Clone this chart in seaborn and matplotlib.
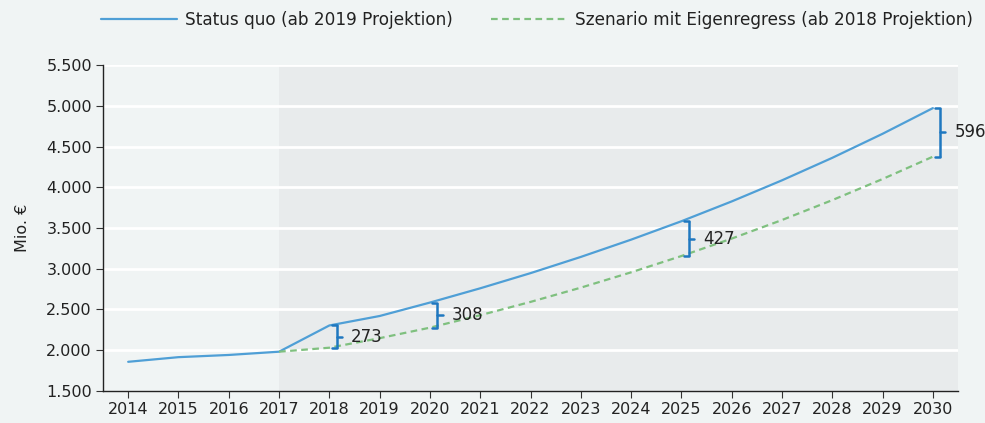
import matplotlib
matplotlib.use("Agg")
import matplotlib.pyplot as plt
import seaborn as sns
import pandas as pd
from matplotlib.ticker import FuncFormatter

years_sq = list(range(2014, 2031))
status_quo = [1858, 1915, 1942, 1982, 2304, 2420, 2585, 2760, 2946, 3145,
              3357, 3583, 3826, 4085, 4361, 4656, 4971]
years_sc = list(range(2017, 2031))
szenario = [1982, 2031, 2148, 2277, 2430, 2593, 2768, 2956, 3156, 3370,
            3598, 3842, 4101, 4375]
gap_years = [2018, 2020, 2025, 2030]
gap_labels = ["273", "308", "427", "596"]
label_sq = "Status quo (ab 2019 Projektion)"
label_sc = "Szenario mit Eigenregress (ab 2018 Projektion)"
y_ticks = [1500, 2000, 2500, 3000, 3500, 4000, 4500, 5000, 5500]

bg = "#f0f4f4"
shade = "#e8ebec"
c_sq = "#4f9fd6"
c_sc = "#7fc07f"
c_br = "#1f78c0"

sns.set_theme(style="white")
plt.rcParams["font.family"] = ["DejaVu Sans"]

fig = plt.figure(figsize=(9.85, 4.23), dpi=100, facecolor=bg)
ax = fig.add_axes([0.1046, 0.0757, 0.868, 0.7706])
ax.set_facecolor(bg)

df_sq = pd.DataFrame({"Jahr": years_sq, "Wert": status_quo})
df_sc = pd.DataFrame({"Jahr": years_sc, "Wert": szenario})

ax.axvspan(2017, 2030.5, color=shade, zorder=0, lw=0)
for yt in y_ticks[1:]:
    ax.axhline(yt, color="white", lw=2, zorder=1)

sns.lineplot(data=df_sq, x="Jahr", y="Wert", ax=ax, color=c_sq, lw=1.6,
             label=label_sq, zorder=3)
sns.lineplot(data=df_sc, x="Jahr", y="Wert", ax=ax, color=c_sc, lw=1.6,
             linestyle=(0, (3, 2)), label=label_sc, zorder=3)

sq_map = dict(zip(years_sq, status_quo))
sc_map = dict(zip(years_sc, szenario))
dx = 0.15
serif = 0.1
for yr, lab in zip(gap_years, gap_labels):
    top = sq_map[yr]
    bot = sc_map[yr]
    mid = (top + bot) / 2
    x = yr + dx
    ax.plot([x, x], [bot, top], color=c_br, lw=1.8, zorder=4, solid_capstyle="butt", clip_on=False)
    ax.plot([x - serif, x], [top, top], color=c_br, lw=1.8, zorder=4, clip_on=False)
    ax.plot([x - serif, x], [bot, bot], color=c_br, lw=1.8, zorder=4, clip_on=False)
    ax.plot([x, x + serif], [mid, mid], color=c_br, lw=1.8, zorder=4, clip_on=False)
    ax.text(x + 0.28, mid, lab, fontsize=12, color="#222222", va="center", ha="left",
            clip_on=False, zorder=5)

ax.set_xlim(2013.5, 2030.5)
ax.set_ylim(1500, 5500)
ax.set_xticks(years_sq)
ax.set_yticks(y_ticks)
ax.yaxis.set_major_formatter(FuncFormatter(lambda v, p: f"{int(v):,}".replace(",", ".")))
ax.tick_params(axis="both", labelsize=11.5, colors="#333333", labelcolor="#222222",
               length=5, width=0.8, direction="out", bottom=True, left=True, pad=3)
ax.set_xlabel("")
ax.set_ylabel("Mio. €", fontsize=11.5, color="#222222", labelpad=12)
for s in ["top", "right"]:
    ax.spines[s].set_visible(False)
for s in ["left", "bottom"]:
    ax.spines[s].set_color("#222222")
    ax.spines[s].set_linewidth(1.0)

leg = ax.legend(loc="center", bbox_to_anchor=(0.545, 0.953), bbox_transform=fig.transFigure,
                ncol=2, frameon=False, fontsize=12.2, handlelength=4.5, handletextpad=0.45,
                columnspacing=2.3)
for t in leg.get_texts():
    t.set_color("#222222")

fig.savefig("out.png", dpi=100, facecolor=bg)
